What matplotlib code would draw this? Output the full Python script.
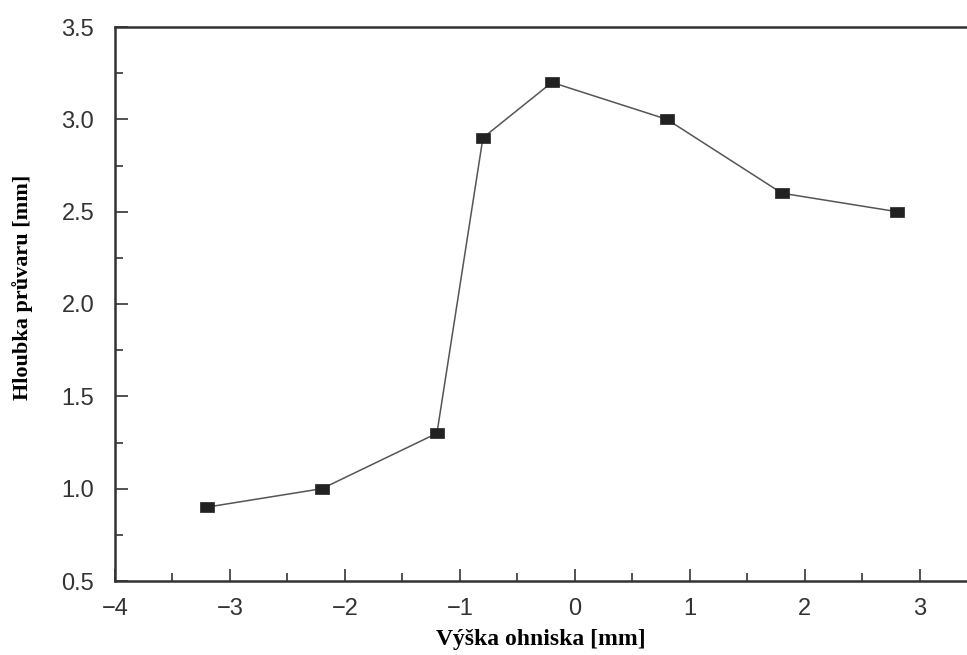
import matplotlib
matplotlib.use("Agg")
import matplotlib.pyplot as plt

# focal height vs. weld penetration depth
focus_mm = [-3.2, -2.2, -1.2, -0.8, -0.2, 0.8, 1.8, 2.8]
depth_mm = [0.9, 1.0, 1.3, 2.9, 3.2, 3.0, 2.6, 2.5]

x_ticks = [-4, -3, -2, -1, 0, 1, 2, 3]
x_ticklabels = ["\u22124", "\u22123", "\u22122", "\u22121", "0", "1", "2", "3"]
y_ticks = [0.5, 1.0, 1.5, 2.0, 2.5, 3.0, 3.5]

fig = plt.figure(figsize=(9.67, 6.55), dpi=100)
ax = fig.add_axes([115 / 967, 74 / 655, 1 - 115 / 967, (581 - 27) / 655])

# slightly wide square marker like the scanned original
rect = [(-1.3, -1), (1.3, -1), (1.3, 1), (-1.3, 1), (-1.3, -1)]
ax.plot(focus_mm, depth_mm, color="#555555", lw=1.1,
        marker=rect, markersize=10, markerfacecolor="#222222",
        markeredgecolor="#222222", markeredgewidth=0.5)

ax.set_xlim(-4, 3.41)
ax.set_ylim(0.5, 3.5)
ax.set_xticks(x_ticks)
ax.set_xticklabels(x_ticklabels)
ax.set_yticks(y_ticks)
ax.set_yticklabels([f"{v:.1f}" for v in y_ticks])
ax.set_xticks([-3.5, -2.5, -1.5, -0.5, 0.5, 1.5, 2.5], minor=True)
ax.set_yticks([0.75, 1.25, 1.75, 2.25, 2.75, 3.25], minor=True)

for side in ["left", "bottom", "top"]:
    ax.spines[side].set_linewidth(1.8)
    ax.spines[side].set_color("#333333")
ax.spines["right"].set_visible(False)

ax.tick_params(which="both", direction="in", color="#333333", width=1.2,
               labelcolor="#333333", labelsize=17, labelfontfamily="Liberation Sans")
ax.tick_params(which="major", length=9)
ax.tick_params(which="minor", length=5.5)
ax.tick_params(axis="y", which="major", pad=15)
ax.tick_params(axis="x", which="major", pad=12)

ax.set_xlabel("Výška ohniska [mm]", family="Liberation Serif", weight="bold",
              fontsize=17)
ax.set_ylabel("Hloubka průvaru [mm]", family="Liberation Serif", weight="bold",
              fontsize=16)
ax.xaxis.set_label_coords((541 - 115) / 852, -(629 - 581) / 554)
ax.yaxis.set_label_coords(-(115 - 33) / 852, (581 - 287) / 554)

fig.savefig("out.png", dpi=100)
